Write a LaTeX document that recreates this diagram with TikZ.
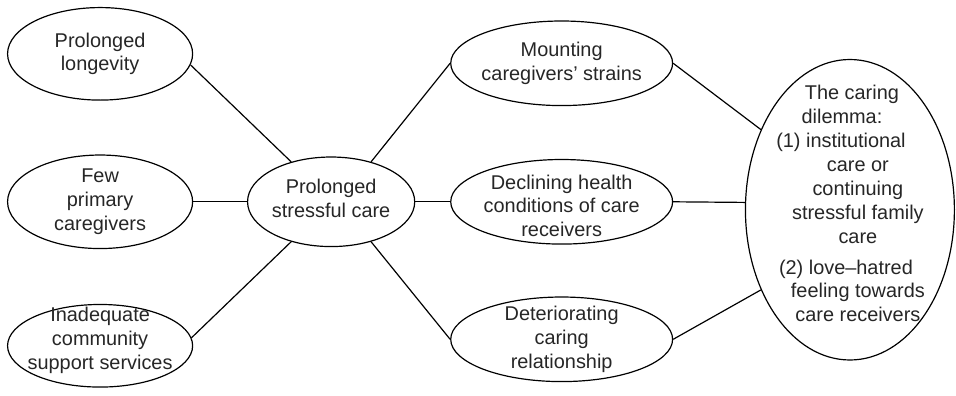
\documentclass[tikz,border=0pt]{standalone}
\usepackage{fontspec}
\setmainfont{Liberation Sans}
\usetikzlibrary{positioning, shapes.geometric, calc}

\begin{document}
\begin{tikzpicture}[
      line width=0.6pt,
      oval/.style={draw, ellipse, inner sep=0pt},
      side/.style={oval, minimum width=93pt, minimum height=46.5pt},
      mid/.style={oval, minimum width=111.5pt, minimum height=42.5pt},
      txt/.style={align=center, inner sep=0pt, text=black!85,
                  font=\fontsize{10}{12}\selectfont}]
    \node[oval, minimum width=84pt, minimum height=45pt,
          label={[txt, yshift=1.5pt]center:{Prolonged\\stressful care}}] (stress) {};
    \node[side, minimum height=47pt, left=27pt of stress,
          label={[txt]center:{Few\\primary\\caregivers}}] (few) {};
    \node[side, above=27pt of few,
          label={[txt]center:{Prolonged\\longevity}}] (lon) {};
    \node[side, minimum height=41.5pt, below=27.5pt of few,
          label={[txt, yshift=2.75pt]center:{Inadequate\\community\\support services}}] (inad) {};
    \node[mid, right=17.5pt of stress,
          label={[txt, yshift=-2pt]center:{Declining health\\conditions of care\\receivers}}] (decl) {};
    \node[mid, above=26.5pt of decl,
          label={[txt]center:{Mounting\\caregivers' strains}}] (mount) {};
    \node[mid, below=26pt of decl,
          label={[txt]center:{Deteriorating\\caring\\relationship}}] (det) {};
    \node[oval, right=36pt of decl, yshift=-4pt, minimum width=105pt, minimum height=151pt,
          label={[txt, xshift=4pt, yshift=3pt]center:{The caring\hspace*{6pt}\null\\
            dilemma:\hspace*{16pt}\null\\
            (1) institutional\hspace*{17pt}\null\\
            care or\\continuing\\stressful family\\care\\[3.5pt]
            (2) love--hatred\hspace*{12pt}\null\\
            feeling towards\\care receivers}}] (dil) {};
    \draw (lon.-7) -- (stress.135);
    \draw (few.east) -- (stress.west);
    \draw (inad.5) -- (stress.-135);
    \draw (stress.45) -- (mount.west);
    \draw (stress.east) -- (decl.west);
    \draw (stress.-45) -- (det.west);
    \draw (mount.east) -- (dil.138);
    \draw (decl.east) -- (dil.176);
    \draw (det.east) -- (dil.-138);
    \pgfresetboundingbox
    \path[use as bounding box] ($(few.west |- lon.north)+(-3.5pt,3.5pt)$)
      rectangle ($(dil.east |- inad.south)+(0.5pt,-4pt)$);
  \end{tikzpicture}
\end{document}
